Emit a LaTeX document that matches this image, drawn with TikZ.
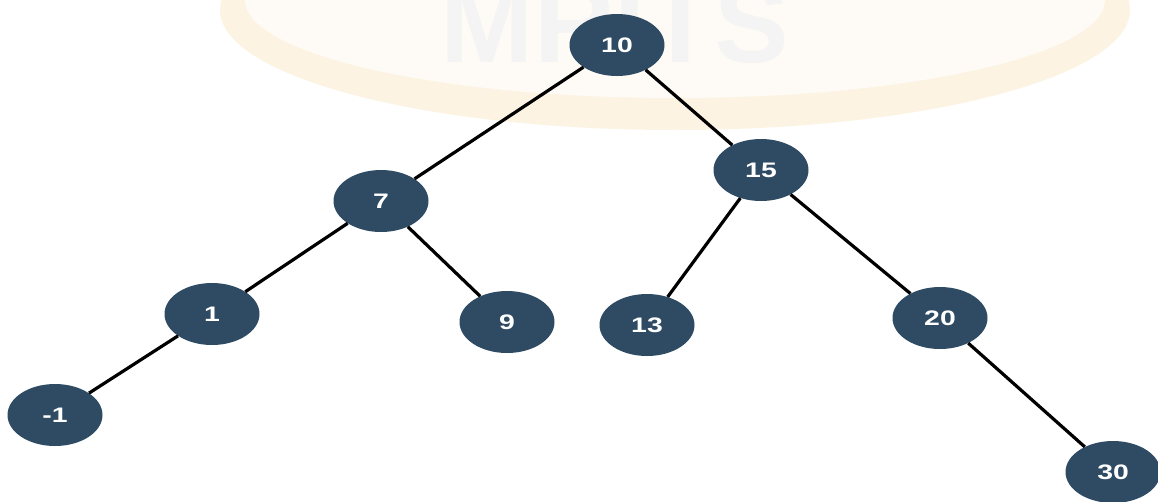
\documentclass[tikz,border=0pt]{standalone}
\usepackage{fontspec}
\usepackage{graphicx}
\setmainfont{Liberation Sans}
\usetikzlibrary{shapes.geometric}
\definecolor{nodefill}{RGB}{46,75,99}
\definecolor{wmband}{RGB}{252,243,227}
\definecolor{wminner}{RGB}{254,251,246}
\newcommand{\widelab}[1]{\scalebox{1.35}[1]{#1}}
\tikzset{
  tnode/.style={ellipse, fill=nodefill, text=white, minimum width=95pt, minimum height=62pt, inner sep=0pt, font=\fontsize{21}{21}\selectfont\bfseries},
  tedge/.style={draw=black, line width=3.2pt}
}
\begin{document}
\begin{tikzpicture}[x=1pt,y=-1pt]
\useasboundingbox (0,0) rectangle (1158,501);
\fill[white] (0,0) rectangle (1158,501);
% faint watermark
\begin{scope}
\clip (0,0) rectangle (1158,501);
\fill[wmband] (675,10) ellipse [x radius=455, y radius=120];
\fill[wminner] (675,0) ellipse [x radius=430, y radius=98];
\node[anchor=base, text=gray!9, font=\fontsize{112}{112}\selectfont\bfseries] (wm) at (615,62) {MRITS};
\end{scope}
% nodes
\node[tnode] (n10) at (617,45) {\widelab{10}};
\node[tnode] (n7) at (381,201) {\widelab{7}};
\node[tnode] (n15) at (761,170) {\widelab{15}};
\node[tnode] (n1) at (212,314) {\widelab{1}};
\node[tnode] (n9) at (507,322) {\widelab{9}};
\node[tnode] (n13) at (647,325) {\widelab{13}};
\node[tnode] (n20) at (940,318) {\widelab{20}};
\node[tnode] (nm1) at (55,415) {\widelab{-1}};
\node[tnode] (n30) at (1113,472) {\widelab{30}};
% edges
\draw[tedge] (n10) -- (n7);
\draw[tedge] (n10) -- (n15);
\draw[tedge] (n7) -- (n1);
\draw[tedge] (n7) -- (n9);
\draw[tedge] (n15) -- (n13);
\draw[tedge] (n15) -- (n20);
\draw[tedge] (n1) -- (nm1);
\draw[tedge] (n20) -- (n30);
\end{tikzpicture}
\end{document}
